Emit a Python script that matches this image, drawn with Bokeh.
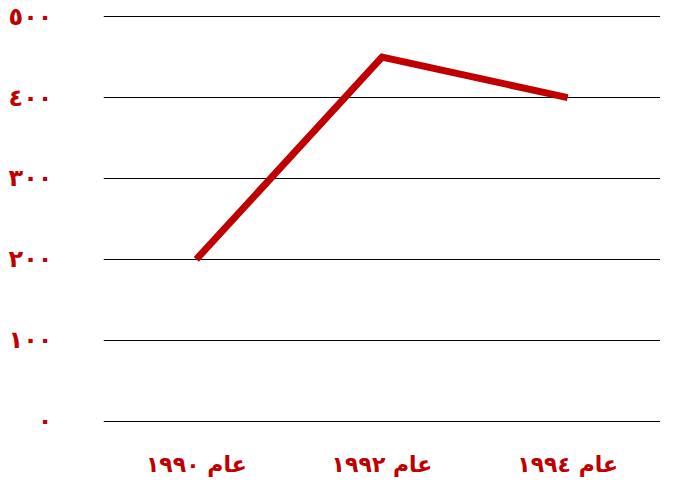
from bokeh.plotting import figure
from bokeh.models import Range1d, FactorRange, ColumnDataSource
from bokeh.embed import file_html
from bokeh.resources import INLINE

# Data
years = ["عام ١٩٩٠", "عام ١٩٩٢", "عام ١٩٩٤"]
values = [200, 450, 400]
y_ticks = [0, 100, 200, 300, 400, 500]
y_tick_labels = ["٠", "١٠٠", "٢٠٠", "٣٠٠", "٤٠٠", "٥٠٠"]

RED = "#C00000"

p = figure(width=660, height=479, x_range=FactorRange(*years),
           y_range=Range1d(-8, 520), output_backend="svg",
           toolbar_location=None, min_border_left=103, min_border_right=0,
           min_border_top=0, min_border_bottom=52)
p.outline_line_color = None
p.background_fill_color = "white"

src = ColumnDataSource(dict(x=years, y=values))
p.line("x", "y", source=src, line_color=RED, line_width=7, line_join="miter")

# y axis
p.yaxis.ticker = y_ticks
p.yaxis.major_label_overrides = {t: l for t, l in zip(y_ticks, y_tick_labels)}
p.yaxis.axis_line_color = None
p.yaxis.major_tick_line_color = None
p.yaxis.minor_tick_line_color = None
p.yaxis.major_label_standoff = 45
p.yaxis.major_label_text_font = "DejaVu Sans"
p.yaxis.major_label_text_font_style = "bold"
p.yaxis.major_label_text_font_size = "24px"
p.yaxis.major_label_text_color = RED

# x axis
p.xaxis.axis_line_color = None
p.xaxis.major_tick_line_color = None
p.xaxis.minor_tick_line_color = None
p.xaxis.major_label_standoff = 18
p.xaxis.major_label_text_font = "DejaVu Sans"
p.xaxis.major_label_text_font_style = "bold"
p.xaxis.major_label_text_font_size = "22px"
p.xaxis.major_label_text_color = RED

p.xgrid.grid_line_color = None
p.ygrid.grid_line_color = "black"
p.ygrid.grid_line_width = 1

open("out.html", "w").write(file_html(p, INLINE))
